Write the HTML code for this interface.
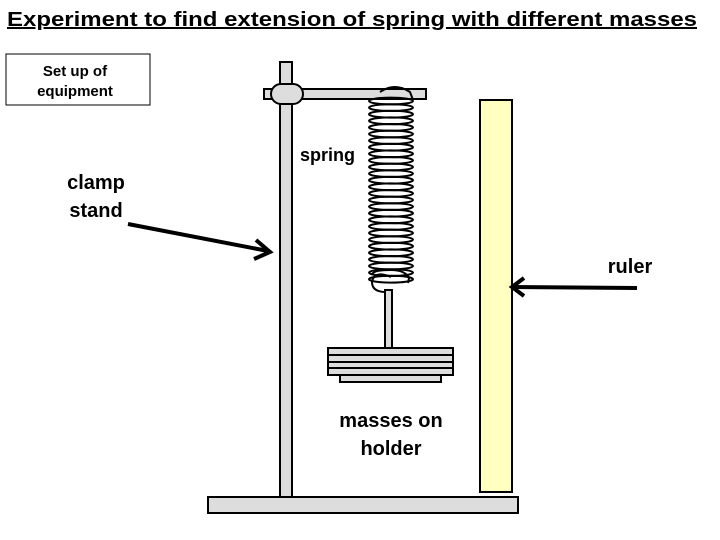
<!DOCTYPE html>
<html><head><style>body{margin:0;background:#fff}svg{display:block}text{font-family:"Liberation Sans",sans-serif;font-weight:bold}</style></head><body>
<svg width="720" height="540" viewBox="0 0 720 540" xmlns="http://www.w3.org/2000/svg">
<text x="7" y="26" font-size="20" text-decoration="underline" textLength="690" lengthAdjust="spacingAndGlyphs">Experiment to find extension of spring with different masses</text>
<rect x="6" y="54" width="144" height="51" fill="#fff" stroke="#000" stroke-width="1"/>
<text x="75" y="76" font-size="15" text-anchor="middle">Set up of</text>
<text x="75" y="96" font-size="15" text-anchor="middle">equipment</text>
<rect x="208" y="497" width="310" height="16" fill="#ddd" stroke="#000" stroke-width="2"/>
<rect x="280" y="62" width="12" height="435" fill="#ddd" stroke="#000" stroke-width="2"/>
<rect x="264" y="89" width="162" height="10" fill="#ddd" stroke="#000" stroke-width="2"/>
<rect x="271" y="84" width="32" height="20" rx="10" fill="#ddd" stroke="#000" stroke-width="2"/>
<rect x="480" y="100" width="32" height="392" fill="#ffffc0" stroke="#000" stroke-width="2"/>
<g fill="none" stroke="#000" stroke-width="2">
<path d="M380 92 Q395 82 410 92 L413 100"/>
<g id="c">
<ellipse cx="391" cy="101" rx="22" ry="3.4"/><ellipse cx="391" cy="107.6" rx="22" ry="3.4"/><ellipse cx="391" cy="114.2" rx="22" ry="3.4"/><ellipse cx="391" cy="120.8" rx="22" ry="3.4"/><ellipse cx="391" cy="127.4" rx="22" ry="3.4"/><ellipse cx="391" cy="134" rx="22" ry="3.4"/><ellipse cx="391" cy="140.6" rx="22" ry="3.4"/><ellipse cx="391" cy="147.2" rx="22" ry="3.4"/><ellipse cx="391" cy="153.8" rx="22" ry="3.4"/><ellipse cx="391" cy="160.4" rx="22" ry="3.4"/><ellipse cx="391" cy="167" rx="22" ry="3.4"/><ellipse cx="391" cy="173.6" rx="22" ry="3.4"/><ellipse cx="391" cy="180.2" rx="22" ry="3.4"/><ellipse cx="391" cy="186.8" rx="22" ry="3.4"/>
</g>
<use href="#c" y="92.4"/>
<path d="M372 275 Q372 270 391 270 Q405 270 409 278 L408 283"/>
<path d="M391 277 Q374 270 372 282 Q372 292 386 292"/>
</g>
<path d="M385 290 L392 290 L392 349 L385 349 Z" fill="#ddd" stroke="#000" stroke-width="2"/>
<g fill="#ddd" stroke="#000" stroke-width="2">
<rect x="340" y="374" width="101" height="8"/>
<rect x="328" y="348" width="125" height="27"/>
</g>
<g stroke="#000" stroke-width="2"><line x1="328" y1="355" x2="453" y2="355"/><line x1="328" y1="362" x2="453" y2="362"/><line x1="328" y1="368" x2="453" y2="368"/></g>
<text x="300" y="161" font-size="18">spring</text>
<text x="96" y="189" font-size="20" text-anchor="middle">clamp</text>
<text x="96" y="217" font-size="20" text-anchor="middle">stand</text>
<text x="630" y="273" font-size="20" text-anchor="middle">ruler</text>
<text x="391" y="427" font-size="20" text-anchor="middle">masses on</text>
<text x="391" y="455" font-size="20" text-anchor="middle">holder</text>
<g stroke="#000" stroke-width="4" fill="none">
<line x1="128" y1="224" x2="268" y2="251"/>
<polyline points="256,240 270,252 254,259"/>
<line x1="637" y1="288" x2="512" y2="287"/>
<polyline points="524,278 512,287 524,296"/>
</g>
</svg>
</body></html>
